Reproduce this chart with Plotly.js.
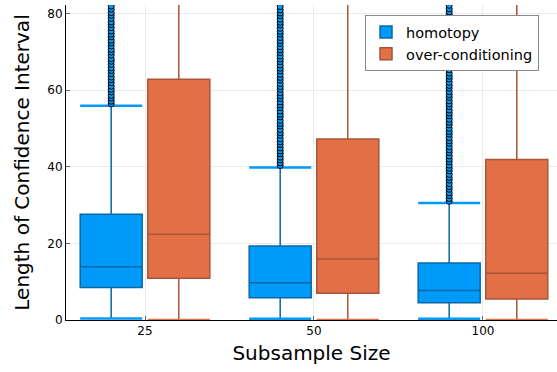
<!DOCTYPE html>
<html>
<head>
<meta charset="utf-8">
<script src="https://cdn.plot.ly/plotly-3.0.1.min.js"></script>
<style>html,body{margin:0;padding:0;background:#fff;}#chart{width:557px;height:372px;}</style>
</head>
<body>
<div id="chart"></div>
<script>
// ---- data ----
const categories = ['25', '50', '100'];
const seriesNames = ['homotopy', 'over-conditioning'];

const homotopyQ1 = [8.5, 5.8, 4.5];
const homotopyMedian = [13.9, 9.7, 7.7];
const homotopyQ3 = [27.6, 19.3, 14.9];
const homotopyLower = [0.4, 0.3, 0.3];
const homotopyUpper = [55.9, 39.8, 30.5];

const overQ1 = [10.9, 7.0, 5.5];
const overMedian = [22.4, 15.9, 12.2];
const overQ3 = [62.8, 47.2, 41.9];
const overLower = [0, 0, 0];
const overUpper = [98, 95, 96];

const homotopyOutliers25 = [56.4,57.1,57.9,58.6,59.5,60.2,61.0,61.9,62.7,63.4,64.3,65.1,65.8,66.7,67.5,68.2,69.1,69.9,70.6,71.5,72.3,73.0,73.9,74.6,75.4,76.3,77.1,77.8,78.7,79.5,80.2,81.1,81.9,83.5,86.0,90.2];
const homotopyOutliers50 = [40.3,41.0,41.8,42.5,43.4,44.1,44.9,45.8,46.5,47.3,48.2,48.9,49.7,50.6,51.3,52.1,53.0,53.7,54.5,55.4,56.1,56.9,57.8,58.5,59.3,60.2,60.9,61.7,62.6,63.3,64.1,65.0,65.7,66.5,67.4,68.1,68.9,69.8,70.5,71.3,72.2,72.9,73.7,74.6,75.3,76.1,77.0,77.7,78.5,79.4,80.1,80.9,81.8,84.0,88.5];
const homotopyOutliers100 = [31.0,31.7,32.5,33.2,34.1,34.8,35.6,36.5,37.2,38.0,38.9,39.6,40.4,41.3,42.0,42.8,43.7,44.4,45.2,46.1,46.8,47.6,48.5,49.2,50.0,50.9,51.6,52.4,53.3,54.0,54.8,55.7,56.4,57.2,58.1,58.8,59.6,60.5,61.2,62.0,62.9,63.6,64.4,65.3,66.0,66.8,67.7,68.4,69.2,70.1,70.8,71.6,72.5,73.2,74.0,74.9,75.6,76.4,77.3,78.0,78.8,79.7,80.4,81.2,82.1,85.0];
const homotopyOutliers = [homotopyOutliers25, homotopyOutliers50, homotopyOutliers100];

const yTickVals = [0, 20, 40, 60, 80];

// ---- styling / layout constants ----
const BLUE = '#009AFA', BLUE_LINE = '#0a68a6';
const ORANGE = '#E26F46', ORANGE_LINE = '#a9553a';
const OFFSET = 0.2, BOXW = 0.367;
const FONT = 'DejaVu Sans, sans-serif';

const idx = categories.map((c, i) => i);
const posH = idx.map(i => i - OFFSET);
const posO = idx.map(i => i + OFFSET);

function caps(pos, vals) {
  const x = [], y = [];
  pos.forEach((p, i) => { x.push(p - BOXW / 2, p + BOXW / 2, null); y.push(vals[i], vals[i], null); });
  return {x, y};
}

const traces = [];
traces.push({
  type: 'box', name: seriesNames[0], x: posH,
  q1: homotopyQ1, median: homotopyMedian, q3: homotopyQ3,
  lowerfence: homotopyLower, upperfence: homotopyUpper,
  width: BOXW, whiskerwidth: 0, boxpoints: false,
  fillcolor: BLUE, line: {color: BLUE_LINE, width: 1.5}, hoverinfo: 'skip'
});
traces.push({
  type: 'box', name: seriesNames[1], x: posO,
  q1: overQ1, median: overMedian, q3: overQ3,
  lowerfence: overLower, upperfence: overUpper,
  width: BOXW, whiskerwidth: 0, boxpoints: false,
  fillcolor: ORANGE, line: {color: ORANGE_LINE, width: 1.5}, hoverinfo: 'skip'
});
// whisker caps
const hu = caps(posH, homotopyUpper), hl = caps(posH, homotopyLower);
const ou = caps(posO, overUpper), ol = caps(posO, overLower);
traces.push({type: 'scatter', mode: 'lines', x: hu.x, y: hu.y, line: {color: BLUE, width: 2.5}, showlegend: false, hoverinfo: 'skip'});
traces.push({type: 'scatter', mode: 'lines', x: ou.x, y: ou.y, line: {color: ORANGE, width: 2.5}, showlegend: false, hoverinfo: 'skip'});
traces.push({type: 'scatter', mode: 'lines', x: hl.x, y: hl.y, line: {color: BLUE, width: 2.5}, showlegend: false, hoverinfo: 'skip', cliponaxis: false});
traces.push({type: 'scatter', mode: 'lines', x: ol.x, y: ol.y, line: {color: ORANGE, width: 2.5}, showlegend: false, hoverinfo: 'skip', cliponaxis: false});
// outliers
const ox = [], oy = [];
homotopyOutliers.forEach((arr, i) => arr.forEach(v => { ox.push(posH[i]); oy.push(v); }));
traces.push({type: 'scatter', mode: 'markers', x: ox, y: oy, showlegend: false, hoverinfo: 'skip',
  marker: {color: BLUE, size: 6, line: {color: '#000', width: 1}}});

const layout = {
  width: 557, height: 372,
  margin: {l: 66, r: 0, t: 5, b: 52},
  paper_bgcolor: '#fff', plot_bgcolor: '#fff',
  font: {family: FONT, color: '#000'},
  showlegend: true,
  legend: {x: 0.609, y: 0.968, xanchor: 'left', yanchor: 'top', bgcolor: '#fff',
    bordercolor: '#8a8a8a', borderwidth: 1, font: {size: 14.5, family: FONT}, tracegroupgap: 0},
  xaxis: {
    range: [-0.4675, 2.438], tickmode: 'array', tickvals: idx, ticktext: categories,
    showgrid: true, gridcolor: '#ebebeb', gridwidth: 1, zeroline: false,
    showline: true, linecolor: '#000', linewidth: 1,
    ticks: 'inside', ticklen: 4, tickcolor: '#666', tickfont: {size: 12, family: FONT},
    title: {text: 'Subsample Size', font: {size: 20, family: FONT}, standoff: 8},
    layer: 'below traces', fixedrange: true
  },
  yaxis: {
    range: [0, 82.2], tickmode: 'array', tickvals: yTickVals,
    showgrid: true, gridcolor: '#ebebeb', gridwidth: 1, zeroline: false,
    showline: true, linecolor: '#000', linewidth: 1,
    ticks: 'inside', ticklen: 4, tickcolor: '#666', tickfont: {size: 12, family: FONT},
    title: {text: 'Length of Confidence Interval', font: {size: 20, family: FONT}, standoff: 12},
    layer: 'below traces', fixedrange: true
  }
};

Plotly.newPlot('chart', traces, layout, {displayModeBar: false, staticPlot: true});
</script>
</body>
</html>
